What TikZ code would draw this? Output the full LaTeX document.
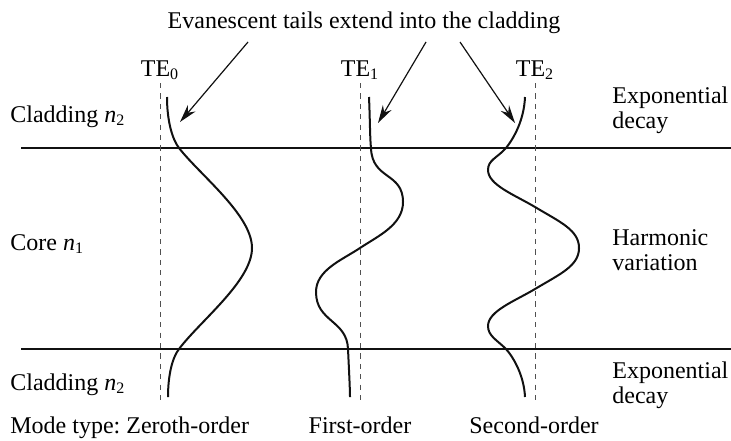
\documentclass[tikz,border=0pt]{standalone}
\usepackage{fontspec}
\setmainfont{Liberation Serif}
\usetikzlibrary{arrows.meta, positioning}
\definecolor{Ink}{HTML}{111111}
\definecolor{DashGrey}{HTML}{505050}
\newcommand{\refidx}[2]{\textit{#1}\textsubscript{#2}}
\frenchspacing

\begin{document}
\begin{tikzpicture}[x=0.5pt, y=-0.5pt, font=\fontsize{12}{12.5}\selectfont,
    lbl/.style={anchor=base west, inner sep=0pt},
    side/.style={anchor=west, align=left, inner sep=0pt},
    mode/.style={Ink, line width=1pt},
    tail/.style={Ink, line width=0.6pt, -{Stealth[length=9pt, width=5pt]}}]
    \useasboundingbox (0,0) rectangle (731,440);

    % Interfaces
    \draw[Ink, line width=0.6pt] (21,148) -- (731,148);
    \draw[Ink, line width=0.6pt] (21,349) -- (731,349);

    % Mode axes
    \foreach \x/\m in {160/0, 360/1, 535/2} {
        \draw[DashGrey, line width=0.5pt, dash pattern=on 2.6pt off 2.6pt] (\x,83) -- (\x,405);
        \node[anchor=base] (te\m) at (\x,76) {TE\textsubscript{\m}};
    }

    % Zeroth-order mode
    \draw[mode] (167,97) .. controls (167,120) and (172,139) .. (179,148)
        .. controls (200,175) and (252,215) .. (252,248)
        .. controls (252,281) and (200,321) .. (179,349)
        .. controls (172,358) and (168,376) .. (168,397);

    % First-order mode
    \draw[mode] (369,97) .. controls (370,120) and (370,140) .. (371,148)
        .. controls (372,180) and (403,172) .. (403,202)
        .. controls (403,225) and (378,236) .. (360,248)
        .. controls (342,260) and (316,270) .. (316,292)
        .. controls (316,322) and (347,320) .. (348,349)
        .. controls (349,370) and (350,390) .. (350,397);

    % Second-order mode
    \draw[mode] (525,97) .. controls (524,120) and (514,138) .. (506,148)
        .. controls (497,158) and (488,160) .. (488,170)
        .. controls (488,185) and (515,195) .. (535,207)
        .. controls (560,222) and (579,230) .. (579,248)
        .. controls (579,266) and (560,274) .. (535,289)
        .. controls (515,301) and (488,311) .. (488,326)
        .. controls (488,336) and (497,340) .. (506,349)
        .. controls (514,358) and (524,376) .. (525,397);

    % Evanescent tails
    \node[anchor=base] (title) at (364,28) {Evanescent tails extend into the cladding};
    \coordinate (src0) at (248,42);
    \coordinate (src1) at (426,42);
    \coordinate (src2) at (460,42);
    \coordinate (tip0) at (180,122);
    \coordinate (tip1) at (378,123);
    \coordinate (tip2) at (515,123);
    \draw[tail] (src0) -- (tip0);
    \draw[tail] (src1) -- (tip1);
    \draw[tail] (src2) -- (tip2);

    % Regions
    \node[lbl] (cladtop) at (10,122) {Cladding \refidx{n}{2}};
    \node[lbl] (core) at (10,250) {Core \refidx{n}{1}};
    \node[lbl] (cladbot) at (10,390) {Cladding \refidx{n}{2}};
    \node[side] (decaytop) at (612,110) {Exponential\\decay};
    \node[side] (harmonic) at (612,250) {Harmonic\\variation};
    \node[side] (decaybot) at (612,385) {Exponential\\decay};

    % Mode orders
    \node[lbl] (order0) at (10,433) {Mode type: Zeroth-order};
    \node[anchor=base] (order1) at (360,433) {First-order};
    \node[anchor=base] (order2) at (534,433) {Second-order};
\end{tikzpicture}
\end{document}
